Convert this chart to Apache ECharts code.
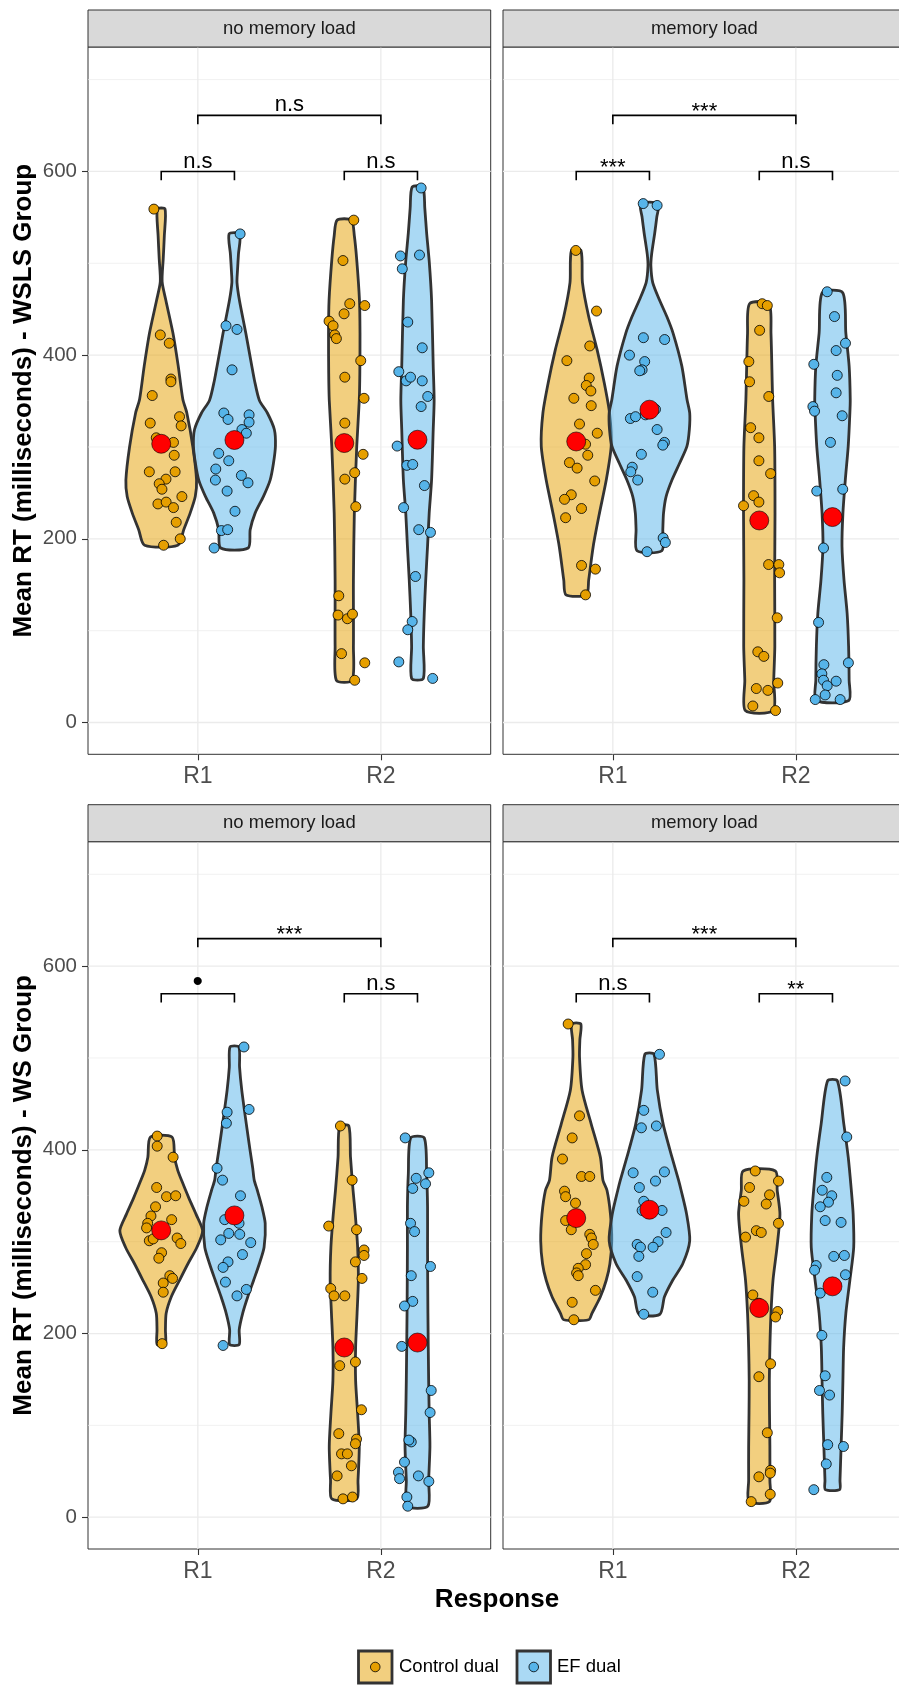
<!DOCTYPE html>
<html>
<head>
<meta charset="utf-8">
<script src="https://cdn.jsdelivr.net/npm/echarts@6/dist/echarts.min.js"></script>
<style>
  html, body { margin: 0; padding: 0; background: #ffffff; }
  #chart { width: 899px; height: 1686px; }
</style>
</head>
<body>
<div id="chart"></div>
<script>
// ---- categories and labels ----
const responses = ['R1', 'R2'];
const groups = ['Control dual', 'EF dual'];
const loadLabels = ['no memory load', 'memory load'];
const groupTitles = ['Mean RT (milliseconds) - WSLS Group', 'Mean RT (milliseconds) - WS Group'];
const yTicks = [0, 200, 400, 600];
const yMinorTicks = [100, 300, 500, 700];

// ---- WSLS group, no memory load: individual means [jitter, RT] ----
const wslsNoLoadCtrlR1 = [[-0.040,559],[-0.005,422],[0.044,413],[0.053,374],[0.053,371],[-0.049,356],[0.100,333],[-0.060,326],[0.109,323],[0.067,305],[-0.027,310],[0.071,291],[-0.065,273],[0.076,273],[0.026,265],[-0.011,260],[0.004,254],[0.113,246],[-0.018,238],[0.027,240],[0.067,234],[0.082,218],[0.104,200],[0.013,193]];
const wslsNoLoadEfR1 = [[0.031,532],[-0.046,432],[0.014,428],[-0.013,384],[-0.058,337],[-0.035,330],[0.080,335],[0.080,327],[0.041,319],[0.065,315],[-0.086,293],[-0.031,285],[-0.102,276],[-0.104,264],[0.038,269],[0.074,261],[-0.040,252],[0.003,230],[-0.071,209],[-0.037,210],[-0.111,190]];
const wslsNoLoadCtrlR2 = [[0.052,547],[-0.007,503],[0.030,456],[0.112,454],[-0.001,445],[-0.083,437],[-0.061,432],[-0.052,422],[-0.043,418],[0.090,394],[0.003,376],[0.108,353],[0.003,326],[0.103,292],[0.003,265],[0.057,272],[0.063,235],[-0.030,138],[-0.034,117],[0.017,113],[0.045,118],[-0.015,75],[0.112,65],[0.057,46]];
const wslsNoLoadEfR2 = [[0.020,582],[-0.093,508],[-0.083,494],[0.011,509],[-0.053,436],[0.026,408],[-0.102,382],[-0.062,372],[-0.038,376],[0.026,372],[0.056,355],[0.020,344],[-0.111,301],[-0.058,280],[-0.026,281],[0.038,258],[-0.076,234],[0.007,210],[0.071,207],[-0.011,159],[-0.029,110],[-0.053,101],[-0.102,66],[0.083,48]];
const wslsNoLoadMeans = [303.5, 307.6, 304.3, 307.9];

// ---- WSLS group, memory load ----
const wslsLoadCtrlR1 = [[-0.002,514],[0.111,448],[0.074,410],[-0.051,394],[0.071,375],[0.055,367],[0.080,361],[-0.013,353],[0.082,345],[0.018,325],[0.115,315],[0.051,303],[0.063,291],[-0.037,283],[0.005,277],[0.101,263],[-0.027,248],[-0.064,243],[0.029,233],[-0.058,223],[0.029,171],[0.105,167],[0.051,139]];
const wslsLoadEfR1 = [[-0.034,565],[0.042,563],[-0.033,419],[0.083,417],[-0.109,400],[-0.026,393],[-0.040,384],[-0.053,383],[-0.104,331],[-0.076,333],[-0.022,335],[0.033,341],[0.042,319],[0.082,305],[0.073,302],[-0.044,292],[-0.094,278],[-0.102,273],[-0.064,264],[0.075,201],[0.087,196],[-0.013,186]];
const wslsLoadCtrlR2 = [[0.016,456],[0.044,454],[0.002,427],[-0.057,393],[-0.053,371],[0.052,355],[-0.047,321],[-0.002,310],[-0.002,285],[0.062,271],[-0.031,247],[-0.002,240],[-0.086,236],[0.051,172],[0.107,172],[0.111,163],[0.098,114],[-0.008,77],[0.025,72],[0.101,43],[-0.016,37],[0.047,35],[-0.035,18],[0.089,13]];
const wslsLoadEfR2 = [[-0.029,469],[0.011,442],[0.071,413],[0.020,405],[-0.102,390],[0.026,378],[0.020,359],[-0.107,344],[-0.098,339],[0.053,334],[-0.011,305],[-0.086,252],[0.056,254],[-0.049,190],[-0.076,109],[-0.047,63],[0.087,65],[-0.058,53],[-0.049,46],[0.020,45],[-0.029,40],[-0.040,30],[-0.094,25],[0.042,25]];
const wslsLoadMeans = [306.0, 340.6, 220.0, 223.7];

// ---- WS group, no memory load ----
const wsNoLoadCtrlR1 = [[-0.022,415],[-0.022,404],[0.065,392],[-0.025,359],[0.029,349],[0.079,350],[-0.031,338],[-0.056,328],[0.057,324],[-0.074,320],[-0.080,315],[0.087,304],[0.107,298],[-0.065,301],[-0.044,303],[0.002,288],[-0.013,282],[0.047,263],[0.062,260],[0.011,255],[0.011,245],[0.005,189]];
const wsNoLoadEfR1 = [[0.052,512],[-0.040,441],[0.080,444],[-0.044,429],[-0.095,380],[-0.065,367],[0.033,350],[-0.053,324],[0.025,320],[-0.075,302],[-0.031,309],[0.029,308],[0.089,299],[0.044,286],[-0.035,278],[-0.062,272],[-0.049,256],[0.065,248],[0.014,241],[-0.062,187]];
const wsNoLoadCtrlR2 = [[-0.021,426],[0.043,367],[-0.085,317],[0.067,313],[0.108,291],[0.108,285],[0.061,278],[0.097,260],[-0.074,249],[-0.056,241],[0.003,241],[-0.025,165],[0.061,169],[0.094,117],[-0.030,91],[0.067,85],[0.061,80],[-0.015,69],[0.017,69],[0.039,56],[-0.039,45],[-0.007,20],[0.045,22]];
const wsNoLoadEfR2 = [[-0.067,413],[0.062,375],[-0.007,369],[0.044,363],[-0.026,358],[-0.038,320],[-0.016,311],[0.071,273],[-0.034,263],[-0.026,235],[-0.071,230],[-0.086,186],[0.075,138],[0.069,114],[-0.034,82],[-0.047,84],[-0.071,60],[-0.104,49],[-0.098,42],[0.005,45],[0.062,39],[-0.058,22],[-0.053,12]];
const wsNoLoadMeans = [312.3, 328.6, 184.8, 190.2];

// ---- WS group, memory load ----
const wsLoadCtrlR1 = [[-0.044,537],[0.018,437],[-0.022,413],[-0.075,390],[0.029,371],[0.074,371],[-0.064,355],[-0.058,349],[-0.004,342],[-0.058,323],[-0.027,313],[0.074,308],[0.083,304],[0.093,297],[0.056,287],[0.051,275],[0.011,271],[0.002,266],[0.011,263],[0.105,247],[-0.022,234],[-0.013,215]];
const wsLoadEfR1 = [[0.055,504],[-0.031,443],[-0.044,424],[0.038,426],[-0.089,375],[0.082,376],[0.033,366],[-0.055,359],[-0.031,344],[0.069,334],[-0.040,334],[0.091,310],[0.047,300],[0.020,294],[-0.067,297],[-0.049,294],[-0.058,284],[-0.067,262],[0.018,245],[-0.031,221]];
const wsLoadCtrlR2 = [[-0.022,377],[0.105,366],[-0.053,359],[0.056,351],[-0.084,344],[0.038,341],[0.105,320],[-0.016,312],[0.011,310],[-0.075,305],[-0.035,242],[-0.002,233],[0.101,224],[0.089,218],[0.062,167],[-0.002,153],[0.044,92],[0.062,51],[0.060,48],[-0.002,44],[0.060,25],[-0.044,17]];
const wsLoadEfR2 = [[0.069,475],[0.078,414],[-0.031,370],[-0.056,356],[-0.004,350],[-0.022,343],[-0.067,338],[-0.040,323],[0.047,321],[0.007,284],[0.065,285],[-0.089,274],[-0.098,269],[0.071,264],[-0.067,244],[-0.058,198],[-0.040,154],[-0.071,138],[-0.016,133],[-0.026,79],[0.060,77],[-0.034,58],[-0.102,30]];
const wsLoadMeans = [325.7, 334.8, 227.8, 251.4];

// ---- violin density outlines: [RT, half-width] from top to bottom ----
const wslsNoLoadCtrlR1Shape = [[559,0.021],[530,0.017],[505,0.011],[480,0.005],[460,0.025],[424,0.064],[388,0.093],[352,0.118],[337,0.14],[300,0.173],[264,0.193],[246,0.186],[228,0.158],[210,0.123],[193,0.091]];
const wslsNoLoadEfR1Shape = [[532,0.029],[510,0.022],[490,0.016],[479,0.014],[460,0.027],[424,0.062],[388,0.095],[373,0.109],[351,0.136],[337,0.18],[319,0.218],[301,0.224],[282,0.213],[264,0.195],[246,0.158],[228,0.113],[210,0.086],[190,0.075]];
const wslsNoLoadCtrlR2Shape = [[547,0.039],[530,0.055],[504,0.068],[460,0.083],[424,0.086],[380,0.085],[351,0.082],[300,0.068],[228,0.055],[155,0.05],[83,0.05],[46,0.043]];
const wslsNoLoadEfR2Shape = [[583,0.029],[560,0.04],[533,0.05],[500,0.065],[460,0.077],[388,0.086],[351,0.091],[319,0.086],[264,0.077],[228,0.064],[192,0.055],[155,0.045],[119,0.037],[83,0.032],[48,0.032]];
const wslsLoadCtrlR1Shape = [[514,0.026],[479,0.034],[442,0.068],[406,0.114],[370,0.153],[337,0.182],[301,0.191],[264,0.164],[228,0.127],[192,0.093],[155,0.068],[139,0.056]];
const wslsLoadEfR1Shape = [[565,0.048],[550,0.04],[533,0.029],[510,0.012],[497,0.008],[479,0.018],[460,0.055],[442,0.095],[424,0.129],[388,0.177],[352,0.205],[337,0.22],[319,0.218],[301,0.205],[282,0.164],[264,0.123],[246,0.091],[228,0.077],[210,0.073],[187,0.068]];
const wslsLoadCtrlR2Shape = [[456,0.053],[424,0.064],[352,0.073],[300,0.084],[228,0.086],[155,0.084],[83,0.085],[46,0.079],[13,0.076]];
const wslsLoadEfR2Shape = [[468,0.056],[424,0.073],[388,0.091],[352,0.097],[337,0.095],[301,0.086],[264,0.07],[228,0.057],[192,0.052],[155,0.063],[119,0.08],[83,0.088],[46,0.091],[24,0.089]];
const wsNoLoadCtrlR1Shape = [[414,0.059],[392,0.073],[378,0.09],[366,0.113],[348,0.15],[330,0.19],[312,0.226],[294,0.195],[276,0.146],[258,0.1],[240,0.055],[222,0.027],[204,0.023],[188,0.022]];
const wsNoLoadEfR1Shape = [[512,0.024],[490,0.028],[465,0.04],[428,0.065],[400,0.085],[380,0.1],[367,0.108],[356,0.125],[338,0.15],[320,0.168],[294,0.162],[276,0.136],[258,0.105],[240,0.073],[222,0.045],[204,0.026],[188,0.026]];
const wsNoLoadCtrlR2Shape = [[426,0.025],[392,0.034],[356,0.048],[330,0.06],[294,0.073],[258,0.077],[222,0.07],[185,0.062],[149,0.062],[113,0.073],[77,0.082],[40,0.075],[20,0.068]];
const wsNoLoadEfR2Shape = [[413,0.037],[374,0.05],[338,0.055],[294,0.055],[222,0.057],[149,0.061],[113,0.064],[77,0.068],[40,0.061],[12,0.057]];
const wsLoadCtrlR1Shape = [[537,0.025],[520,0.02],[501,0.018],[465,0.032],[428,0.082],[392,0.132],[367,0.146],[356,0.168],[330,0.187],[301,0.194],[276,0.184],[258,0.164],[240,0.132],[222,0.086],[215,0.068]];
const wsLoadEfR1Shape = [[504,0.025],[465,0.043],[428,0.075],[392,0.123],[367,0.159],[356,0.173],[330,0.203],[301,0.22],[276,0.182],[258,0.127],[240,0.082],[221,0.057]];
const wsLoadCtrlR2Shape = [[377,0.088],[356,0.098],[330,0.113],[294,0.097],[258,0.075],[222,0.064],[185,0.058],[149,0.055],[113,0.056],[77,0.058],[40,0.058],[17,0.056]];
const wsLoadEfR2Shape = [[475,0.027],[428,0.062],[392,0.086],[356,0.103],[330,0.113],[294,0.116],[258,0.095],[222,0.073],[185,0.061],[149,0.057],[113,0.053],[77,0.047],[40,0.041],[30,0.039]];

// ---- significance brackets: [from, to, RT level] and their labels ----
const wslsBrackets = [[0.8, 1.2, 600], [1.8, 2.2, 600], [1, 2, 661]];
const wsBrackets = [[0.8, 1.2, 570], [1.8, 2.2, 570], [1, 2, 630]];
const wslsNoLoadSig = ['n.s', 'n.s', 'n.s'];
const wslsLoadSig = ['***', 'n.s', '***'];
const wsNoLoadSig = ['\u2022', 'n.s', '***'];
const wsLoadSig = ['n.s', '**', '***'];

// ---- appearance ----
const FONT = "'Liberation Sans', Arial, Helvetica, sans-serif";
const pointColors = ['#E69F00', '#56B4E9'];
const violinFills = ['rgba(230,159,0,0.5)', 'rgba(86,180,233,0.5)'];
const X_MIN = 0.4, X_MAX = 2.6, Y_MIN = -34.6, Y_MAX = 735.5;
const DODGE = 0.2;
const PANEL_W = 402.7, PANEL_H = 707.3, STRIP_H = 37;
const colLeft = [88, 503];
const rowTop = [47, 841.7];

const panels = [
  { row: 0, col: 0, pts: [wslsNoLoadCtrlR1, wslsNoLoadEfR1, wslsNoLoadCtrlR2, wslsNoLoadEfR2],
    shapes: [wslsNoLoadCtrlR1Shape, wslsNoLoadEfR1Shape, wslsNoLoadCtrlR2Shape, wslsNoLoadEfR2Shape],
    means: wslsNoLoadMeans, brackets: wslsBrackets, sig: wslsNoLoadSig },
  { row: 0, col: 1, pts: [wslsLoadCtrlR1, wslsLoadEfR1, wslsLoadCtrlR2, wslsLoadEfR2],
    shapes: [wslsLoadCtrlR1Shape, wslsLoadEfR1Shape, wslsLoadCtrlR2Shape, wslsLoadEfR2Shape],
    means: wslsLoadMeans, brackets: wslsBrackets, sig: wslsLoadSig },
  { row: 1, col: 0, pts: [wsNoLoadCtrlR1, wsNoLoadEfR1, wsNoLoadCtrlR2, wsNoLoadEfR2],
    shapes: [wsNoLoadCtrlR1Shape, wsNoLoadEfR1Shape, wsNoLoadCtrlR2Shape, wsNoLoadEfR2Shape],
    means: wsNoLoadMeans, brackets: wsBrackets, sig: wsNoLoadSig },
  { row: 1, col: 1, pts: [wsLoadCtrlR1, wsLoadEfR1, wsLoadCtrlR2, wsLoadEfR2],
    shapes: [wsLoadCtrlR1Shape, wsLoadEfR1Shape, wsLoadCtrlR2Shape, wsLoadEfR2Shape],
    means: wsLoadMeans, brackets: wsBrackets, sig: wsLoadSig }
];

// position of violin k (0: Control R1, 1: EF R1, 2: Control R2, 3: EF R2)
function violinPos(k) {
  const r = Math.floor(k / 2) + 1;
  return r + (k % 2 === 0 ? -DODGE : DODGE);
}

const grids = [], xAxes = [], yAxes = [], series = [], graphics = [];

panels.forEach((p, gi) => {
  grids.push({
    left: colLeft[p.col], top: rowTop[p.row], width: PANEL_W, height: PANEL_H,
    show: true, backgroundColor: '#ffffff', borderColor: '#333333', borderWidth: 1,
    containLabel: false, outerBoundsMode: 'none'
  });
  xAxes.push({
    type: 'value', gridIndex: gi, min: X_MIN, max: X_MAX, position: 'bottom',
    axisLine: { show: false, onZero: false },
    axisTick: { show: true, customValues: [1, 2], length: 6, inside: false, lineStyle: { color: '#333333', width: 1.1 } },
    axisLabel: { show: true, customValues: [1, 2], margin: 11, fontSize: 23, fontFamily: FONT, color: '#4D4D4D',
      formatter: v => responses[Math.round(v) - 1] || '' },
    splitLine: { show: false }
  });
  const showY = p.col === 0;
  yAxes.push({
    type: 'value', gridIndex: gi, min: Y_MIN, max: Y_MAX, position: 'left',
    axisLine: { show: false, onZero: false },
    axisTick: { show: showY, customValues: yTicks, length: 6, inside: false, lineStyle: { color: '#333333', width: 1.1 } },
    axisLabel: { show: showY, customValues: yTicks, margin: 11, fontSize: 20.5, fontFamily: FONT, color: '#4D4D4D' },
    splitLine: { show: false }
  });

  // background grid lines: major / minor horizontal, major vertical
  const gridData = yTicks.map(v => [v, 0]).concat(yMinorTicks.map(v => [v, 1]), [1, 2].map(v => [v, 2]));
  series.push({
    type: 'custom', xAxisIndex: gi, yAxisIndex: gi, z: 1, silent: true,
    encode: { x: -1, y: -1 },
    data: gridData,
    renderItem(params, api) {
      const v = api.value(0), kind = api.value(1);
      let a, b;
      if (kind === 2) { a = api.coord([v, Y_MIN]); b = api.coord([v, Y_MAX]); }
      else { a = api.coord([X_MIN, v]); b = api.coord([X_MAX, v]); }
      return { type: 'line', shape: { x1: a[0], y1: a[1], x2: b[0], y2: b[1] },
        style: { stroke: '#EBEBEB', lineWidth: kind === 1 ? 0.7 : 1.3 } };
    }
  });

  // violins
  p.shapes.forEach((shape, k) => {
    const pos = violinPos(k);
    series.push({
      type: 'custom', xAxisIndex: gi, yAxisIndex: gi, z: 2, silent: true,
      data: [[pos, shape[0][0]]],
      renderItem(params, api) {
        const right = shape.map(([v, hw]) => api.coord([pos + hw, v]));
        const left = shape.slice().reverse().map(([v, hw]) => api.coord([pos - hw, v]));
        return { type: 'polygon', shape: { points: right.concat(left), smooth: 0.25 },
          style: { fill: violinFills[k % 2], stroke: '#333333', lineWidth: 2.8, lineJoin: 'round' } };
      }
    });
  });

  // individual points
  p.pts.forEach((pts, k) => {
    const pos = violinPos(k);
    series.push({
      type: 'scatter', xAxisIndex: gi, yAxisIndex: gi, z: 3, silent: true,
      symbol: 'circle', symbolSize: 10,
      itemStyle: { color: pointColors[k % 2], borderColor: '#000000', borderWidth: 0.8, opacity: 1 },
      data: pts.map(([j, v]) => [pos + j, v])
    });
  });

  // group means
  series.push({
    type: 'scatter', xAxisIndex: gi, yAxisIndex: gi, z: 4, silent: true,
    symbol: 'circle', symbolSize: 19,
    itemStyle: { color: '#FF0000', borderColor: '#000000', borderWidth: 0.6, opacity: 1 },
    data: p.means.map((m, k) => [violinPos(k), m])
  });

  // significance brackets
  series.push({
    type: 'custom', xAxisIndex: gi, yAxisIndex: gi, z: 6, silent: true,
    data: p.brackets.map(b => [b[0], b[2]]),
    renderItem(params, api) {
      const [x1, x2, y] = p.brackets[params.dataIndex];
      const label = p.sig[params.dataIndex];
      const a = api.coord([x1, y]), b = api.coord([x2, y]);
      const drop = api.coord([x1, y - 9.5])[1] - a[1];
      const stars = label.indexOf('*') >= 0, dot = label === '\u2022';
      const lift = stars ? 3.5 : (dot ? 11 : 10);
      return { type: 'group', children: [
        { type: 'polyline', shape: { points: [[a[0], a[1] + drop], [a[0], a[1]], [b[0], b[1]], [b[0], b[1] + drop]] },
          style: { stroke: '#000000', lineWidth: 1.6, fill: null } },
        { type: 'text', x: (a[0] + b[0]) / 2, y: a[1] - lift,
          style: { text: label, fontSize: dot ? 30 : 22, fontFamily: FONT, fill: '#000000',
            align: 'center', verticalAlign: 'middle' } }
      ] };
    }
  });

  // facet strip
  const sx = colLeft[p.col], sy = rowTop[p.row] - STRIP_H;
  graphics.push({ type: 'rect', silent: true, z: 10,
    shape: { x: sx, y: sy, width: PANEL_W, height: STRIP_H },
    style: { fill: '#D9D9D9', stroke: '#333333', lineWidth: 1 } });
  graphics.push({ type: 'text', silent: true, z: 11, x: sx + PANEL_W / 2, y: sy + STRIP_H / 2,
    style: { text: loadLabels[p.col], fontSize: 18.5, fontFamily: FONT, fill: '#1A1A1A',
      align: 'center', verticalAlign: 'middle', textAlign: 'center', textVerticalAlign: 'middle' } });
});

// y-axis titles (one per group row)
groupTitles.forEach((t, r) => {
  graphics.push({ type: 'text', silent: true, z: 11, x: 24, y: rowTop[r] + PANEL_H / 2, rotation: Math.PI / 2,
    style: { text: t, fontSize: 26, fontWeight: 'bold', fontFamily: FONT, fill: '#000000',
      align: 'center', verticalAlign: 'middle', textAlign: 'center', textVerticalAlign: 'middle' } });
});

// x-axis title
graphics.push({ type: 'text', silent: true, z: 11, x: 497, y: 1600,
  style: { text: 'Response', fontSize: 26, fontWeight: 'bold', fontFamily: FONT, fill: '#000000',
    align: 'center', verticalAlign: 'middle', textAlign: 'center', textVerticalAlign: 'middle' } });

// legend
const legendKeyX = [358.5, 517];
const legendTextX = [399, 557];
groups.forEach((g, i) => {
  graphics.push({ type: 'rect', silent: true, z: 11,
    shape: { x: legendKeyX[i], y: 1651, width: 33.5, height: 32 },
    style: { fill: violinFills[i], stroke: '#333333', lineWidth: 2.8 } });
  graphics.push({ type: 'circle', silent: true, z: 12,
    shape: { cx: legendKeyX[i] + 16.75, cy: 1667, r: 4.8 },
    style: { fill: pointColors[i], stroke: '#000000', lineWidth: 0.8 } });
  graphics.push({ type: 'text', silent: true, z: 12, x: legendTextX[i], y: 1667,
    style: { text: g, fontSize: 18.5, fontFamily: FONT, fill: '#000000',
      align: 'left', verticalAlign: 'middle', textAlign: 'left', textVerticalAlign: 'middle' } });
});

const chart = echarts.init(document.getElementById('chart'), null, { renderer: 'canvas' });
chart.setOption({
  backgroundColor: '#ffffff',
  animation: false,
  grid: grids,
  xAxis: xAxes,
  yAxis: yAxes,
  series: series,
  graphic: { elements: graphics }
});
</script>
</body>
</html>
